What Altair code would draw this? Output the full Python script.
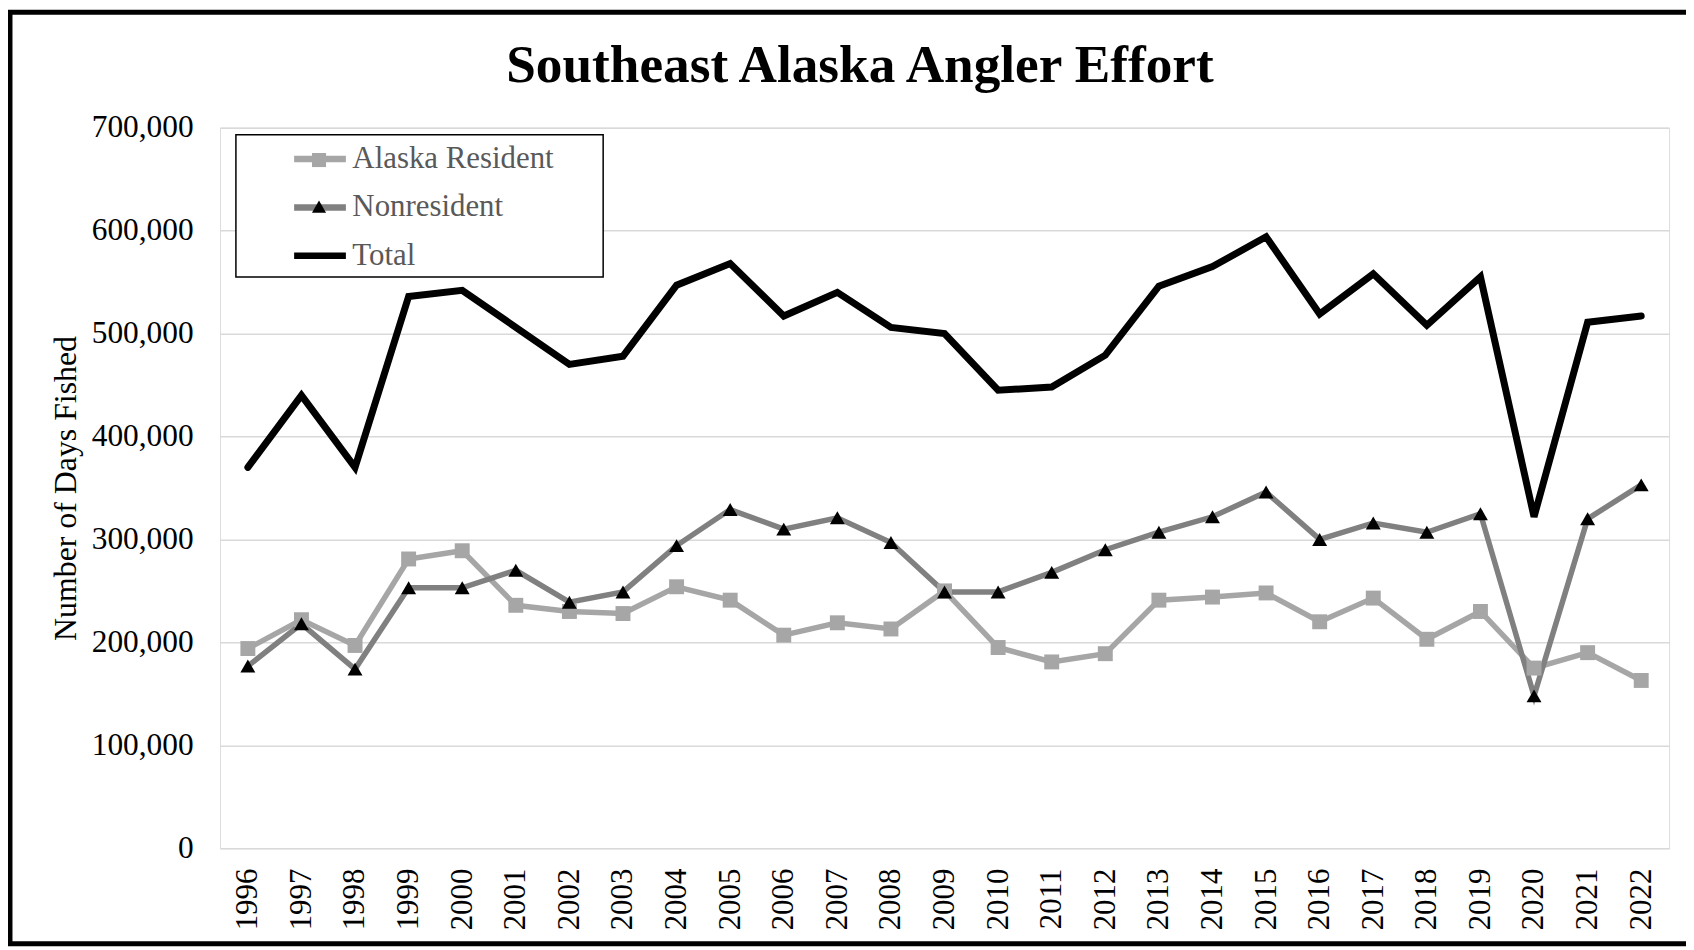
import altair as alt
import pandas as pd

years = [str(y) for y in range(1996, 2023)]
resident = [194000, 222000, 197000, 281000, 289000, 236000, 230000, 228000, 254000, 241000,
            207000, 219000, 213000, 250000, 195000, 181000, 189000, 241000, 244000, 248000,
            220000, 243000, 203000, 230000, 175000, 190000, 163000]
nonresident = [177000, 218000, 174000, 253000, 253000, 270000, 239000, 249000, 294000, 329000,
               310000, 321000, 297000, 249000, 249000, 268000, 290000, 307000, 322000, 346000,
               300000, 316000, 307000, 325000, 148000, 320000, 353000]
total = [370000, 440000, 370000, 536000, 542000, 506000, 470000, 478000, 547000, 568000,
         517000, 540000, 506000, 500000, 445000, 448000, 479000, 546000, 565000, 594000,
         519000, 558000, 508000, 555000, 322000, 511000, 517000]
series_names = ["Alaska Resident", "Nonresident", "Total"]
line_widths = [5.5, 5.5, 7]
y_ticks = [0, 100000, 200000, 300000, 400000, 500000, 600000, 700000]
title_text = "Southeast Alaska Angler Effort"
y_title = "Number of Days Fished"

rows = []
for name, vals in zip(series_names, [resident, nonresident, total]):
    for yr, v in zip(years, vals):
        rows.append({"year": yr, "series": name, "value": v})
df = pd.DataFrame(rows)

W, H = 1456, 724
FONT = "Liberation Serif"

x_enc = alt.X("year:O", sort=years, scale=alt.Scale(padding=0.52),
              axis=alt.Axis(title=None, labelAngle=-90, labelFont=FONT, labelFontSize=31,
                            labelColor="black", labelPadding=20, ticks=False, domain=False,
                            grid=False))
y_enc = alt.Y("value:Q", scale=alt.Scale(domain=[0, 700000], nice=False),
              axis=alt.Axis(values=y_ticks, format=",.0f", title=y_title, titleFont=FONT,
                            titleFontSize=32, titleFontWeight="normal", titleColor="black",
                            titleAngle=-90, titleX=-155, titleY=H / 2, titleAlign="center",
                            titleBaseline="middle", labelFont=FONT, labelFontSize=31.5,
                            labelColor="black", labelPadding=27, ticks=False, domain=False,
                            grid=True, gridColor="#d9d9d9", gridWidth=1.5))

outer = alt.Chart(pd.DataFrame({"a": [0]})).mark_rect(
    fill=None, stroke="black", strokeWidth=5
).encode(x=alt.value(-211), x2=alt.value(1479), y=alt.value(-116), y2=alt.value(820))

title = alt.Chart(pd.DataFrame({"t": [title_text]})).mark_text(
    font=FONT, fontSize=53.5, fontWeight="bold", align="center", baseline="alphabetic", color="black"
).encode(text="t:N", x=alt.value(643), y=alt.value(-46))

line_legend = alt.Legend(orient="none", legendX=71, legendY=2, title=None,
                         symbolType="stroke", symbolSize=2704, symbolStrokeWidth=6.5,
                         labelFont=FONT, labelFontSize=31, labelColor="#595959",
                         labelOffset=3, labelLimit=400, rowPadding=3.6, padding=0)
color_enc = alt.Color("series:N",
                      scale=alt.Scale(domain=series_names, range=["#a6a6a6", "#808080", "#000000"]),
                      legend=line_legend)

line_layers = []
for name, w in zip(series_names, line_widths):
    line_layers.append(
        alt.Chart(df[df["series"] == name]).mark_line(
            strokeWidth=w, strokeJoin="miter", strokeCap="round"
        ).encode(x=x_enc, y=y_enc, color=color_enc)
    )

pt_df = df[df["series"] != "Total"]
marker_legend = alt.Legend(orient="none", legendX=84, legendY=17, title=None,
                           labelExpr="''", symbolSize=200, symbolStrokeWidth=0,
                           labelFontSize=31, rowPadding=14.8, padding=0)
points = alt.Chart(pt_df).mark_point(filled=True, size=225, opacity=1, strokeWidth=0).encode(
    x=x_enc, y=y_enc,
    shape=alt.Shape("series:N", scale=alt.Scale(domain=series_names[:2], range=["square", "triangle-up"]),
                    legend=marker_legend),
    fill=alt.Fill("series:N", scale=alt.Scale(domain=series_names[:2], range=["#a6a6a6", "#000000"]),
                  legend=marker_legend),
)

legend_box = alt.Chart(pd.DataFrame({"a": [0]})).mark_rect(
    fill="white", stroke="black", strokeWidth=1.5
).encode(x=alt.value(16), x2=alt.value(385), y=alt.value(7), y2=alt.value(150))

chart = alt.layer(outer, title, legend_box, *line_layers, points).resolve_scale(
    shape="independent", fill="independent"
).properties(
    width=W, height=H,
    autosize=alt.AutoSizeParams(type="none"),
    padding={"left": 213, "top": 118, "right": 17, "bottom": 100},
).configure_view(stroke="#a0a0a0", strokeWidth=2).configure(background="white")

chart.save("out.html", embed_options={"renderer": "svg", "actions": False})
